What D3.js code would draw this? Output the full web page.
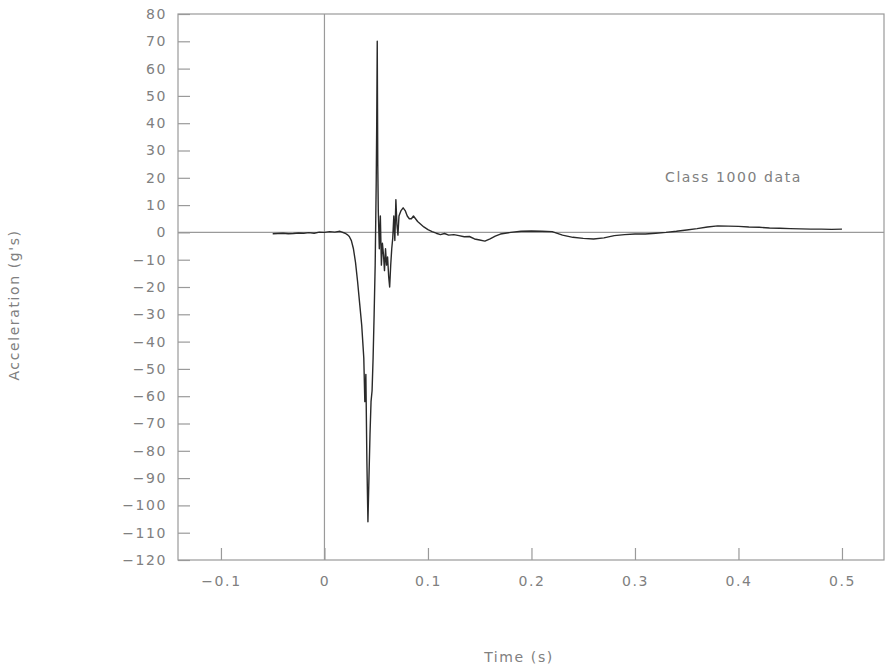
<!DOCTYPE html>
<html>
<head>
<meta charset="utf-8">
<script src="https://cdn.jsdelivr.net/npm/d3@7"></script>
<style>
  body { margin: 0; background: #fff; }
  svg { display: block; }
  text { font-family: "DejaVu Sans", sans-serif; fill: #808080; }
</style>
</head>
<body>
<svg id="chart" width="888" height="670"></svg>
<script>
// Data
const timeS = [
  -0.05, -0.045, -0.04, -0.035, -0.03, -0.025, -0.02, -0.015, -0.01, -0.005,
  0, 0.005, 0.01, 0.015, 0.02, 0.022, 0.024, 0.026, 0.028, 0.030, 0.032, 0.034,
  0.036, 0.037, 0.038, 0.039, 0.040, 0.041, 0.042, 0.0425, 0.043, 0.044, 0.045,
  0.046, 0.047, 0.048, 0.049, 0.050, 0.0505, 0.051, 0.0515, 0.052, 0.053, 0.054,
  0.055, 0.056, 0.057, 0.058, 0.059, 0.060, 0.061, 0.062, 0.063, 0.064, 0.065,
  0.066, 0.067, 0.068, 0.069, 0.070, 0.071, 0.072, 0.074, 0.076, 0.078, 0.080,
  0.082, 0.084, 0.086, 0.088, 0.090, 0.093, 0.096, 0.100, 0.104, 0.108, 0.112,
  0.116, 0.120, 0.125, 0.130, 0.135, 0.140, 0.145, 0.150, 0.155, 0.160, 0.165,
  0.170, 0.180, 0.190, 0.200, 0.210, 0.220, 0.230, 0.240, 0.250, 0.260, 0.270,
  0.280, 0.290, 0.300, 0.310, 0.320, 0.330, 0.340, 0.350, 0.360, 0.370, 0.380,
  0.390, 0.400, 0.410, 0.420, 0.430, 0.440, 0.450, 0.460, 0.470, 0.480, 0.490,
  0.500
];
const accelG = [
  -0.5, -0.4, -0.3, -0.5, -0.4, -0.2, -0.3, -0.1, -0.3, 0.1,
  0, 0.3, 0.1, 0.4, -0.3, -0.8, -1.5, -3, -6, -11, -18, -26,
  -34, -40, -46, -62, -52, -84, -106, -98, -90, -74, -62,
  -58, -46, -30, -12, 18, 40, 70, 25, 8, -6, 6,
  -12, -4, -8, -14, -6, -12, -9, -16, -20, -12, -6,
  -2, 6, -3, 12, 3, -1, 6, 8, 9, 8, 6,
  5, 5, 6, 5, 4, 3, 2, 1, 0.3, -0.3, -0.8,
  -0.4, -1, -0.8, -1.2, -1.6, -1.5, -2.4, -2.8, -3.2, -2.4, -1.4,
  -0.6, 0, 0.4, 0.5, 0.4, 0.3, -1, -1.8, -2.2, -2.4, -2,
  -1.2, -0.8, -0.6, -0.6, -0.3, 0, 0.4, 0.9, 1.4, 2, 2.4,
  2.3, 2.2, 2, 1.9, 1.6, 1.5, 1.4, 1.3, 1.2, 1.2, 1.1,
  1.2
];
const xTicks = [-0.1, 0, 0.1, 0.2, 0.3, 0.4, 0.5];
const yTicks = [80, 70, 60, 50, 40, 30, 20, 10, 0, -10, -20, -30, -40, -50, -60, -70, -80, -90, -100, -110, -120];
const xLabel = "Time (s)";
const yLabel = "Acceleration (g's)";
const annotation = "Class 1000 data";

const svg = d3.select("#chart");
const m = { left: 178, right: 884, top: 14, bottom: 560 };

const x = d3.scaleLinear().domain([-0.1415, 0.5406]).range([m.left, m.right]);
const y = d3.scaleLinear().domain([-120, 80]).range([m.bottom, m.top]);

const axisColor = "#9a9a9a";
const fmt = v => (v < 0 ? "\u2212" + Math.abs(v) : String(v));
const fontSize = 14;
const spacing = "1.6px";

// Frame
svg.append("rect")
  .attr("x", m.left).attr("y", m.top)
  .attr("width", m.right - m.left).attr("height", m.bottom - m.top)
  .attr("fill", "none").attr("stroke", axisColor).attr("stroke-width", 1.2);

// Zero reference lines
svg.append("line")
  .attr("x1", x(0)).attr("x2", x(0)).attr("y1", m.top).attr("y2", m.bottom)
  .attr("stroke", axisColor).attr("stroke-width", 1.2);
svg.append("line")
  .attr("x1", m.left).attr("x2", m.right).attr("y1", y(0)).attr("y2", y(0))
  .attr("stroke", axisColor).attr("stroke-width", 1.2);

// Y axis (ticks inward)
const yAxis = d3.axisLeft(y).tickValues(yTicks).tickFormat(fmt).tickSizeInner(-12).tickSizeOuter(0).tickPadding(11);
const gy = svg.append("g").attr("transform", `translate(${m.left},0)`).call(yAxis);
gy.select(".domain").remove();
gy.selectAll(".tick line").attr("stroke", axisColor).attr("stroke-width", 1.2);
gy.selectAll(".tick text").attr("font-size", fontSize).attr("fill", "#808080")
  .style("letter-spacing", spacing)
  .style("font-family", "'DejaVu Sans', sans-serif");

// X axis (ticks inward)
const xAxis = d3.axisBottom(x).tickValues(xTicks).tickFormat(fmt).tickSizeInner(-12).tickSizeOuter(0).tickPadding(16);
const gx = svg.append("g").attr("transform", `translate(0,${m.bottom})`).call(xAxis);
gx.select(".domain").remove();
gx.selectAll(".tick line").attr("stroke", axisColor).attr("stroke-width", 1.2);
gx.selectAll(".tick text").attr("font-size", fontSize).attr("fill", "#808080")
  .style("letter-spacing", spacing)
  .style("font-family", "'DejaVu Sans', sans-serif");

// Data line
const pts = timeS.map((t, i) => [t, accelG[i]]);
svg.append("path")
  .datum(pts)
  .attr("fill", "none")
  .attr("stroke", "#2a2a2a")
  .attr("stroke-width", 1.4)
  .attr("stroke-linejoin", "round")
  .attr("d", d3.line().x(d => x(d[0])).y(d => y(d[1])));

// Axis titles
svg.append("text")
  .attr("x", 519).attr("y", 662)
  .attr("text-anchor", "middle").attr("font-size", fontSize)
  .style("letter-spacing", spacing)
  .text(xLabel);
svg.append("text")
  .attr("transform", "translate(19,305) rotate(-90)")
  .attr("text-anchor", "middle").attr("font-size", fontSize)
  .style("letter-spacing", spacing)
  .text(yLabel);

// Annotation
svg.append("text")
  .attr("x", 665).attr("y", 182)
  .attr("font-size", fontSize)
  .style("letter-spacing", spacing)
  .text(annotation);
</script>
</body>
</html>
